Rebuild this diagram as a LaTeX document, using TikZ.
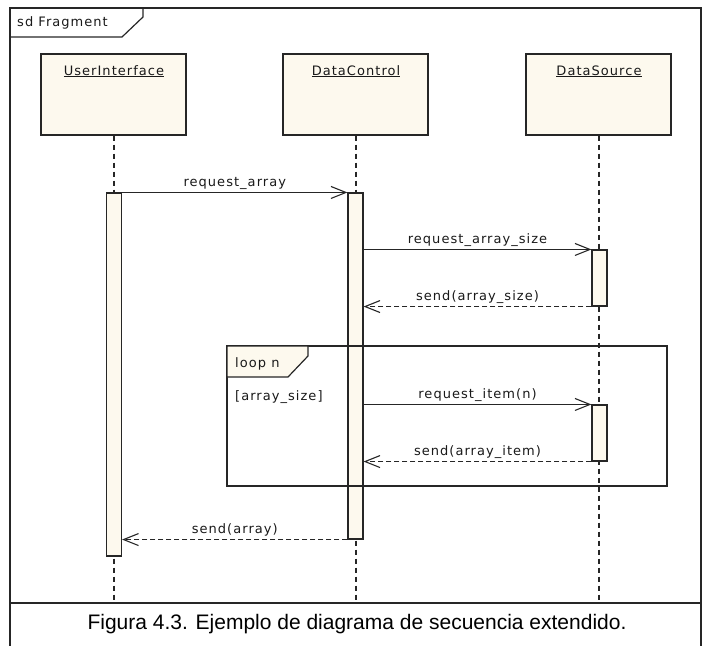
\documentclass[tikz,border=0pt]{standalone}
\usepackage{fontspec}
\setmainfont{Liberation Sans}
\newfontfamily\umlfont[LetterSpace=8]{DejaVu Sans}
\usetikzlibrary{arrows.meta}
\definecolor{lifefill}{RGB}{253,249,238}

\begin{document}
\begin{tikzpicture}[x=1pt,y=-1pt,
  txt/.style={font=\umlfont\fontsize{13}{15}\selectfont, inner sep=0pt, text=black!90},
  frameline/.style={line width=1.2pt, draw=black!85},
  objbox/.style={draw=black!85, line width=1.2pt, fill=lifefill,
    minimum width=145pt, minimum height=81pt, inner sep=0pt},
  actbar/.style={draw=black!85, line width=1.1pt, fill=lifefill,
    minimum width=15pt, inner sep=0pt},
  lifeline/.style={draw=black!85, line width=1.1pt, dash pattern=on 5pt off 4pt},
  call/.style={draw=black!85, line width=1.1pt,
    -{Straight Barb[length=15pt, width=12pt, line width=1.1pt]}},
  reply/.style={draw=black!85, line width=1.1pt, dash pattern=on 5pt off 3pt,
    -{Straight Barb[length=15pt, width=12pt, line width=1.1pt]}},
  msg/.style={txt, midway, anchor=base, yshift=6pt},
]
\useasboundingbox (0,0) rectangle (703,645);

% outer sd frame and its name tab
\draw[frameline] (10,8) rectangle (701,603);
\draw[frameline] (10,37) -- (122,37) -- (143,17) -- (143,8);
\node[txt, anchor=base west] (sdname) at (17,26) {sd Fragment};

% caption area below the frame
\draw[frameline] (10,603) -- (10,646) (701,603) -- (701,646);
\node[font=\fontsize{21}{24}\selectfont, inner sep=0pt] (caption) at (357,624)
  {Figura 4.3. Ejemplo de diagrama de secuencia extendido.};

% lifeline heads
\node[objbox] (ui) at (113.5,94.5) {};
\node[objbox] (dc) at (355.5,94.5) {};
\node[objbox] (ds) at (598.5,94.5) {};
\node[txt, anchor=base] (uilbl) at (114,75) {\underline{UserInterface}};
\node[txt, anchor=base] (dclbl) at (356,75) {\underline{DataControl}};
\node[txt, anchor=base] (dslbl) at (599,75) {\underline{DataSource}};

% dashed lifelines down to the caption area
\coordinate (uiend) at (114,603);
\coordinate (dcend) at (356,603);
\coordinate (dsend) at (599,603);
\draw[lifeline] (ui.south -| uiend) -- (uiend);
\draw[lifeline] (dc.south -| dcend) -- (dcend);
\draw[lifeline] (ds.south -| dsend) -- (dsend);

% activation bars
\node[actbar, minimum height=363pt] (uiact) at (114,374.5) {};
\node[actbar, minimum height=346pt] (dcact) at (355.5,366) {};
\node[actbar, minimum height=56pt] (dsact1) at (599.5,278) {};
\node[actbar, minimum height=56pt] (dsact2) at (599.5,433) {};

% loop combined fragment
\draw[frameline] (227,346) rectangle (667,486);
\draw[frameline, fill=lifefill] (227,346) -- (308,346) -- (308,356) -- (288,377) -- (227,377) -- cycle;
\node[txt, anchor=base west] (looplbl) at (235,367) {loop n};
\node[txt, anchor=base west] (guard) at (235,400) {[array\_size]};

% messages
\draw[call] (uiact.north east) -- (dcact.north west)
  node[msg] {request\_array};
\draw[call] (dcact.east |- dsact1.north) -- (dsact1.north west)
  node[msg] {request\_array\_size};
\draw[reply] (dsact1.south west) -- (dcact.east |- dsact1.south)
  node[msg] {send(array\_size)};
\draw[call] (dcact.east |- dsact2.north) -- (dsact2.north west)
  node[msg] {request\_item(n)};
\draw[reply] (dsact2.south west) -- (dcact.east |- dsact2.south)
  node[msg] {send(array\_item)};
\draw[reply] (dcact.south west) -- (uiact.east |- dcact.south)
  node[msg] {send(array)};
\end{tikzpicture}
\end{document}
